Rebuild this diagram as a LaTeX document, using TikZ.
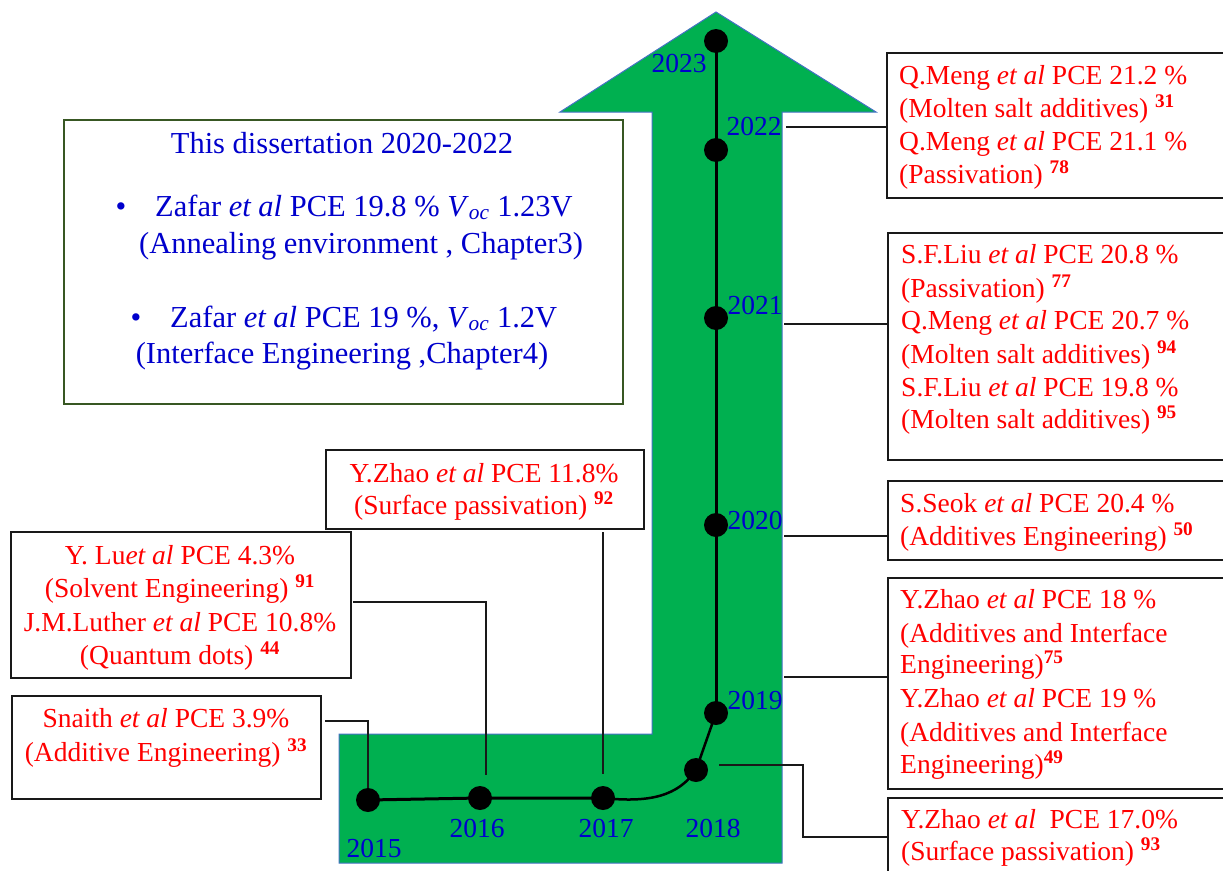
\documentclass[tikz,border=0pt]{standalone}
\usepackage{fontspec}
\setmainfont{Liberation Serif}
\definecolor{arrgreen}{RGB}{0,176,80}
\definecolor{arrline}{RGB}{68,114,196}
\definecolor{yrblue}{RGB}{0,0,204}
\definecolor{dblue}{RGB}{0,0,204}
\definecolor{refred}{RGB}{255,0,0}
\definecolor{boxgreen}{RGB}{56,87,35}
\newcommand\refnum[1]{\textsuperscript{\textbf{#1}}}
\newcommand\etal{\textit{et al}}
\newcommand\voc{\textit{V}\textsubscript{\textit{oc}}}
\begin{document}
\begin{tikzpicture}[x=1pt,y=-1pt,
 dot/.style={circle,fill=black,minimum size=24pt,inner sep=0pt},
 yr/.style={text=yrblue,font=\fontsize{27.5}{30}\selectfont,inner sep=0pt},
 reft/.style={text=refred,font=\fontsize{27.5}{33}\selectfont,inner sep=0pt,anchor=base west},
 refc/.style={text=refred,font=\fontsize{27.5}{33}\selectfont,inner sep=0pt,anchor=base},
 dis/.style={text=dblue,font=\fontsize{30.5}{38}\selectfont,inner sep=0pt},
 refbox/.style={draw=black!90,line width=1.5pt,inner sep=0pt,anchor=north west,fill=white},
 conn/.style={draw=black!90,line width=1.5pt},
 tl/.style={line width=3pt}]
\useasboundingbox (0,0) rectangle (1223,870);
\clip (0,0) rectangle (1223,870);

% green arrow
\draw[fill=arrgreen,draw=arrline,line width=1pt]
  (716,12) -- (876,112) -- (782,112) -- (782,863) -- (339,863) -- (339,734)
  -- (652,734) -- (652,112) -- (560,112) -- cycle;

% dots
\node[dot] (d23) at (716,41) {};
\node[dot] (d22) at (716,150) {};
\node[dot] (d21) at (716,318) {};
\node[dot] (d20) at (716,525) {};
\node[dot] (d19) at (716,713) {};
\node[dot] (d18) at (696,770) {};
\node[dot] (d17) at (603,798) {};
\node[dot] (d16) at (480,798) {};
\node[dot] (d15) at (368,800) {};

% timeline
\draw[tl] (d15.center) -- (d16.center) -- (d17.center);
\draw[line width=2.5pt] (d17.center) .. controls (650,803) and (678,796) .. (d18.center) -- (d19.center);
\draw[tl] (d19.center) -- (d20.center) -- (d21.center) -- (d22.center) -- (d23.center);

% years
\node[yr] (y23) at (679,63) {2023};
\node[yr] (y22) at (754,126) {2022};
\node[yr] (y21) at (755,305) {2021};
\node[yr] (y20) at (755,520) {2020};
\node[yr] (y19) at (755,700) {2019};
\node[yr] (y18) at (713,828) {2018};
\node[yr] (y17) at (606,828) {2017};
\node[yr] (y16) at (477,828) {2016};
\node[yr] (y15) at (374,848) {2015};

% dissertation box
\node[refbox,draw=boxgreen,minimum width=559pt,minimum height=284pt] (bdis) at (63,119) {};
\node[dis,anchor=base] (dt) at (342,153) {This dissertation 2020-2022};
\node[dis,anchor=base] (db1) at (121,216) {\textbullet};
\node[dis,anchor=base west] (dl1) at (155,216) {Zafar \etal{} PCE 19.8 \% \voc{} 1.23V};
\node[dis,anchor=base] (dl2) at (361,253) {(Annealing environment , Chapter3)};
\node[dis,anchor=base] (db2) at (136,327) {\textbullet};
\node[dis,anchor=base west] (dl3) at (170,327) {Zafar \etal{} PCE 19 \%, \voc{} 1.2V};
\node[dis,anchor=base] (dl4) at (342,363) {(Interface Engineering ,Chapter4)};

% left boxes
\node[refbox,minimum width=318pt,minimum height=79pt] (bzh) at (325,449) {};
\node[refc] (zh1) at (484,482) {Y.Zhao \etal{} PCE 11.8\%};
\node[refc] (zh2) at (484,514) {(Surface passivation) \refnum{92}};

\node[refbox,minimum width=340pt,minimum height=146pt] (blu) at (10,531) {};
\node[refc] (lu1) at (180,564) {Y. Lu\etal{} PCE 4.3\%};
\node[refc] (lu2) at (180,597) {(Solvent Engineering) \refnum{91}};
\node[refc] (lu3) at (180,631) {J.M.Luther \etal{} PCE 10.8\%};
\node[refc] (lu4) at (180,664) {(Quantum dots) \refnum{44}};

\node[refbox,minimum width=309pt,minimum height=103pt] (bsn) at (11,695) {};
\node[refc] (sn1) at (166,727) {Snaith \etal{} PCE 3.9\%};
\node[refc] (sn2) at (166,761) {(Additive Engineering) \refnum{33}};

% right boxes
\node[refbox,minimum width=360pt,minimum height=145pt] (b22) at (886,52) {};
\node[reft] (r22a) at (899,84) {Q.Meng \etal{} PCE 21.2 \%};
\node[reft] (r22b) at (899,117) {(Molten salt additives) \refnum{31}};
\node[reft] (r22c) at (899,150) {Q.Meng \etal{} PCE 21.1 \%};
\node[reft] (r22d) at (899,183) {(Passivation) \refnum{78}};

\node[refbox,minimum width=360pt,minimum height=227pt] (b21) at (887,232) {};
\node[reft] (r21a) at (901,263) {S.F.Liu \etal{} PCE 20.8 \%};
\node[reft] (r21b) at (901,297) {(Passivation) \refnum{77}};
\node[reft] (r21c) at (901,329) {Q.Meng \etal{} PCE 20.7 \%};
\node[reft] (r21d) at (901,363) {(Molten salt additives) \refnum{94}};
\node[reft] (r21e) at (901,396) {S.F.Liu \etal{} PCE 19.8 \%};
\node[reft] (r21f) at (901,428) {(Molten salt additives) \refnum{95}};

\node[refbox,minimum width=360pt,minimum height=79pt] (b20) at (887,480) {};
\node[reft] (r20a) at (900,512) {S.Seok \etal{} PCE 20.4 \%};
\node[reft] (r20b) at (900,545) {(Additives Engineering) \refnum{50}};

\node[refbox,minimum width=360pt,minimum height=211pt] (b19) at (887,577) {};
\node[reft] (r19a) at (900,608) {Y.Zhao \etal{} PCE 18 \%};
\node[reft] (r19b) at (900,642) {(Additives and Interface};
\node[reft] (r19c) at (900,673) {Engineering)\refnum{75}};
\node[reft] (r19d) at (900,707) {Y.Zhao \etal{} PCE 19 \%};
\node[reft] (r19e) at (900,741) {(Additives and Interface};
\node[reft] (r19f) at (900,773) {Engineering)\refnum{49}};

\node[refbox,minimum width=360pt,minimum height=120pt] (b18) at (887,797) {};
\node[reft] (r18a) at (901,828) {Y.Zhao \etal{}\ \ PCE 17.0\%};
\node[reft] (r18b) at (901,860) {(Surface passivation) \refnum{93}};

% connectors
\coordinate (c15) at (325,721);
\coordinate (c16) at (353,602);
\coordinate (e16) at (486,775);
\coordinate (c17) at (603,532);
\coordinate (e17) at (603,774);
\coordinate (c18) at (719,765);
\coordinate (k18) at (803,837);
\coordinate (c19) at (784,677);
\coordinate (c20) at (784,536);
\coordinate (c21) at (784,324);
\coordinate (c22) at (786,127);

\draw[conn] (c15) -| (d15.north);
\draw[conn] (c16) -| (e16);
\draw[conn] (c17) -- (e17);
\draw[conn] (c18) -| (k18) -- (k18 -| b18.west);
\draw[conn] (c19) -- (c19 -| b19.west);
\draw[conn] (c20) -- (c20 -| b20.west);
\draw[conn] (c21) -- (c21 -| b21.west);
\draw[conn] (c22) -- (c22 -| b22.west);
\end{tikzpicture}
\end{document}
